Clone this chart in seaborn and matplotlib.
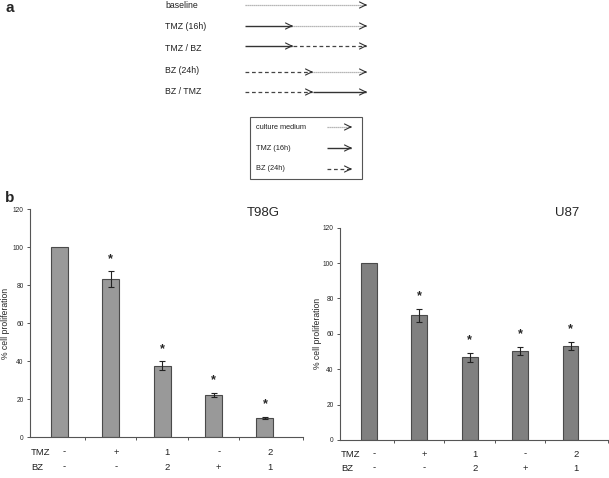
import numpy as np
import pandas as pd
import matplotlib
matplotlib.use("Agg")
import matplotlib.pyplot as plt
import seaborn as sns

# ---------------- data ----------------
conditions = ["baseline", "TMZ (16h)", "TMZ / BZ", "BZ (24h)", "BZ / TMZ"]
tmz_row = ["-", "+", "1", "-", "2"]
bz_row = ["-", "-", "2", "+", "1"]
t98g_mean = [100, 83, 37.5, 22, 10.2]
t98g_err = [0, 4.2, 2.3, 1.2, 0.5]
u87_mean = [100, 70.5, 46.7, 50.5, 53]
u87_err = [0, 3.7, 2.5, 2.3, 2.4]
significant = [False, True, True, True, True]
yticks = [0, 20, 40, 60, 80, 100, 120]

legend_labels = ["culture medium", "TMZ (16h)", "BZ (24h)"]

sns.set_style("white")
plt.rcParams["font.family"] = ["Liberation Sans", "DejaVu Sans"]

W, H = 609, 478
fig = plt.figure(figsize=(W / 100, H / 100), dpi=100)

# ---------------- panel a (schematic in pixel coordinates) ----------------
axa = fig.add_axes([0, 0, 1, 1], zorder=-1)
axa.set_xlim(0, W)
axa.set_ylim(H, 0)
axa.axis("off")

styles = {
    "medium": dict(color="#a0a0a0", ls=(0, (1, 0.6)), lw=0.9),
    "tmz": dict(color="#333333", ls="-", lw=1.0),
    "bz": dict(color="#444444", ls=(0, (3, 2.2)), lw=0.9),
}


def seg_arrow(x0, x1, y, kind):
    st = styles[kind]
    axa.plot([x0, x1 - 1], [y, y], color=st["color"], ls=st["ls"], lw=st["lw"],
             solid_capstyle="butt")
    axa.annotate("", xy=(x1, y), xytext=(x1 - 2, y),
                 arrowprops=dict(arrowstyle="->,head_length=0.45,head_width=0.22",
                                 color="#333333", lw=0.8, shrinkA=0, shrinkB=0))


rows = [
    ("baseline", 5, [(245, 367, "medium")]),
    ("TMZ (16h)", 26, [(245, 293, "tmz"), (293, 367, "medium")]),
    ("TMZ / BZ", 46, [(245, 293, "tmz"), (293, 367, "bz")]),
    ("BZ (24h)", 72, [(245, 313, "bz"), (313, 367, "medium")]),
    ("BZ / TMZ", 92, [(245, 313, "bz"), (313, 367, "tmz")]),
]
text_y = [5, 26, 48, 70, 91]
for (lab, y, segs), ty in zip(rows, text_y):
    axa.text(165, ty, lab, fontsize=6.3, va="center", ha="left", color="#222222")
    for x0, x1, k in segs:
        seg_arrow(x0, x1, y, k)

# legend box
axa.add_patch(plt.Rectangle((250, 117), 112, 62, fill=False, ec="#555555", lw=0.8))
for lab, y, k in zip(legend_labels, [127, 148, 169], ["medium", "tmz", "bz"]):
    axa.text(256, y, lab, fontsize=5.3, va="center", ha="left", color="#222222")
    seg_arrow(327, 352, y, k)

axa.text(5, 8, "a", fontsize=11, fontweight="bold", va="center", ha="left")
axa.text(5, 198, "b", fontsize=11, fontweight="bold", va="center", ha="left")


# ---------------- panel b ----------------
def bar_panel(rect, means, errs, title, color, title_xy, xlim, ylabel_x, width):
    ax = fig.add_axes(rect)
    df = pd.DataFrame({"condition": conditions, "value": means})
    sns.barplot(data=df, x="condition", y="value", color=color, width=width,
                edgecolor="#4a4a4a", linewidth=0.8, saturation=1, ax=ax)
    pos = np.arange(len(conditions))
    e = np.array(errs)
    m = np.array(means)
    mask = e > 0
    ax.errorbar(pos[mask], m[mask], yerr=e[mask], fmt="none", ecolor="#222222",
                elinewidth=0.8, capsize=2.2, capthick=0.8)
    for p, v, er, s in zip(pos, m, e, significant):
        if s:
            ax.annotate("*", xy=(p, v + er), xytext=(0, 9), textcoords="offset points",
                        ha="center", va="center", fontsize=9, fontweight="bold")
    ax.set_xlim(*xlim)
    ax.set_ylim(0, 120)
    ax.set_yticks(yticks)
    ax.set_yticklabels([str(t) for t in yticks], fontsize=4.8)
    ax.set_xticks(list(np.arange(0.5, len(conditions) - 1, 1.0)) + [xlim[1]])
    ax.set_xticklabels([])
    ax.set_xlabel("")
    ax.set_ylabel("")
    for sp in ["top", "right"]:
        ax.spines[sp].set_visible(False)
    for sp in ["left", "bottom"]:
        ax.spines[sp].set_color("#555555")
        ax.spines[sp].set_linewidth(0.8)
    ax.tick_params(axis="both", direction="out", length=2.5, width=0.7,
                   color="#555555", pad=2, left=True, bottom=True)
    # treatment rows
    xt = ax.get_xaxis_transform()
    for lab, yrow in [("TMZ", -0.066), ("BZ", -0.132)]:
        ax.text(xlim[0] + 0.02, yrow, lab, transform=xt,
                fontsize=6.8, ha="left", va="center", color="#222222")
    for p, t, b in zip(pos, tmz_row, bz_row):
        ax.text(p + 0.1, -0.066, t, transform=xt, fontsize=6.8,
                ha="center", va="center", color="#222222")
        ax.text(p + 0.1, -0.132, b, transform=xt, fontsize=6.8,
                ha="center", va="center", color="#222222")
    fig.text(title_xy[0] / W, 1 - title_xy[1] / H, title, fontsize=9.5,
             ha="center", va="center")
    fig.text(ylabel_x / W, rect[1] + rect[3] / 2, "% cell proliferation",
             rotation=90, fontsize=6.2, ha="center", va="center")
    return ax


bar_panel([30 / W, 1 - 437 / H, 273 / W, 228 / H], t98g_mean, t98g_err, "T98G",
          "#999999", (263, 213), (-0.572, 4.74), 6, 0.33)
bar_panel([340 / W, 1 - 440 / H, 268 / W, 212.3 / H], u87_mean, u87_err, "U87",
          "#808080", (567, 213), (-0.57, 4.74), 317, 0.31)

fig.savefig("out.png", dpi=100)
